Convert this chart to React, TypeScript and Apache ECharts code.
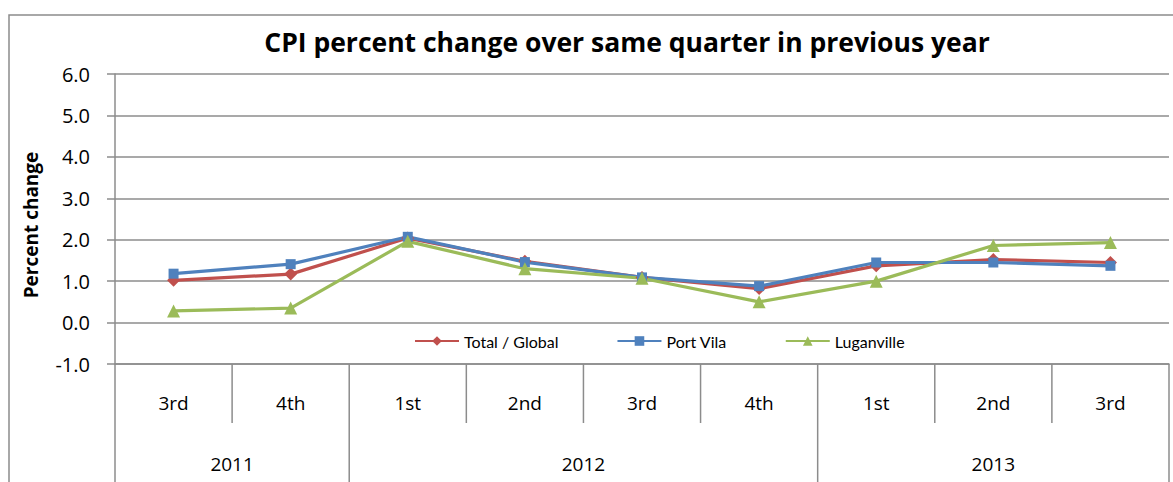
import React, { useEffect, useRef } from "react";
import * as echarts from "echarts";

const quarters = ["3rd", "4th", "1st", "2nd", "3rd", "4th", "1st", "2nd", "3rd"];
const yearLabels = ["2011", "2012", "2013"];
// half-quarter positions (0..18) used for the year label axis
const yearLabelPos = [2, 8, 15];
// category boundaries (in quarter units) where separators are drawn
const quarterBoundaries = [1, 3, 4, 5, 7, 8];
const yearBoundaries = [0, 2, 6, 9];

const totalGlobal = [1.02, 1.17, 2.04, 1.48, 1.09, 0.82, 1.37, 1.52, 1.45];
const portVila = [1.18, 1.41, 2.07, 1.46, 1.09, 0.88, 1.45, 1.45, 1.37];
const luganville = [0.28, 0.35, 1.96, 1.3, 1.07, 0.5, 1.0, 1.86, 1.93];

const yTicks = { min: -1, max: 6, interval: 1 };

const FONT = "'Open Sans', Lato, sans-serif";
const LEG_FONT = "Lato, 'Open Sans', sans-serif";
const GRID_COLOR = "#8c8c8c";

export default function App() {
  const ref = useRef<HTMLDivElement>(null);

  useEffect(() => {
    if (!ref.current) return;
    const chart = echarts.init(ref.current, undefined, { renderer: "svg" });

    const yearAxisData: string[] = [];
    for (let i = 0; i <= 18; i++) {
      const idx = yearLabelPos.indexOf(i);
      yearAxisData.push(idx >= 0 ? yearLabels[idx] : "");
    }

    const separatorData = [
      ...quarterBoundaries.map((b) => [b, 0]),
      ...yearBoundaries.map((b) => [b, 1]),
    ];

    const mkSeries = (name: string, data: number[], color: string, symbol: string, size: number) => ({
      name,
      type: "line",
      data,
      xAxisIndex: 0,
      yAxisIndex: 0,
      symbol,
      symbolSize: size,
      itemStyle: { color },
      lineStyle: { color, width: 3.2 },
      z: 3,
    });

    chart.setOption({
      animation: false,
      backgroundColor: "#fff",
      grid: { left: 115, right: 4, top: 74, bottom: 118, containLabel: false },
      graphic: [
        {
          type: "rect",
          shape: { x: 9, y: 15, width: 1180, height: 490 },
          style: { fill: "none", stroke: GRID_COLOR, lineWidth: 1.5 },
          silent: true,
          z: -1,
        },
        {
          type: "text",
          x: 627,
          y: 42,
          style: {
            text: "CPI percent change over same quarter in previous year",
            font: `bold 26.5px ${FONT}`,
            fill: "#000",
            textAlign: "center",
            textVerticalAlign: "middle",
          },
        },
        {
          type: "text",
          x: 31,
          y: 225,
          rotation: Math.PI / 2,
          style: {
            text: "Percent change",
            font: `bold 19px ${FONT}`,
            fill: "#000",
            textAlign: "center",
            textVerticalAlign: "middle",
          },
        },
      ],
      legend: {
        left: 409,
        top: 328,
        itemWidth: 44,
        itemHeight: 12,
        itemGap: 58,
        textStyle: { fontFamily: LEG_FONT, fontSize: 16, color: "#000" },
        data: ["Total / Global", "Port Vila", "Luganville"],
      },
      xAxis: [
        {
          type: "category",
          data: quarters,
          position: "bottom",
          boundaryGap: true,
          axisLine: { show: true, onZero: false, lineStyle: { color: GRID_COLOR, width: 1.5 } },
          axisTick: { show: false },
          axisLabel: {
            interval: 0,
            margin: 29,
            fontFamily: FONT,
            fontSize: 19,
            color: "#000",
          },
          splitLine: { show: false },
        },
        {
          type: "category",
          data: yearAxisData,
          position: "bottom",
          boundaryGap: false,
          axisLine: { show: false, onZero: false },
          axisTick: { show: false },
          axisLabel: {
            interval: 0,
            margin: 90,
            fontFamily: FONT,
            fontSize: 19,
            color: "#000",
          },
          splitLine: { show: false },
        },
      ],
      yAxis: {
        type: "value",
        min: yTicks.min,
        max: yTicks.max,
        interval: yTicks.interval,
        axisLine: { show: true, lineStyle: { color: GRID_COLOR, width: 1.5 } },
        axisTick: { show: true, length: 8, lineStyle: { color: GRID_COLOR, width: 1.5 } },
        axisLabel: {
          margin: 25,
          fontFamily: FONT,
          fontSize: 20,
          color: "#000",
          formatter: (v: number) => v.toFixed(1),
        },
        splitLine: { show: true, lineStyle: { color: GRID_COLOR, width: 1.5 } },
      },
      series: [
        {
          type: "custom",
          name: "separators",
          xAxisIndex: 0,
          yAxisIndex: 0,
          clip: false,
          silent: true,
          z: 1,
          data: separatorData,
          renderItem: (params: any, api: any) => {
            const b = api.value(0);
            const kind = api.value(1);
            const band = api.size([1, 0])[0];
            const x = api.coord([0, yTicks.min])[0] + (b - 0.5) * band;
            const y0 = api.coord([0, yTicks.min])[1];
            const len = kind === 1 ? 130 : 59;
            return {
              type: "line",
              shape: { x1: x, y1: y0, x2: x, y2: y0 + len },
              style: { stroke: GRID_COLOR, lineWidth: 1.5 },
            };
          },
        },
        mkSeries("Total / Global", totalGlobal, "#C0504D", "diamond", 13),
        mkSeries("Port Vila", portVila, "#4F81BD", "rect", 10),
        mkSeries("Luganville", luganville, "#9BBB59", "triangle", 13),
      ],
    });

    return () => chart.dispose();
  }, []);

  return (
    <div
      ref={ref}
      style={{ position: "absolute", left: 0, top: 0, width: 1173, height: 482 }}
    />
  );
}
